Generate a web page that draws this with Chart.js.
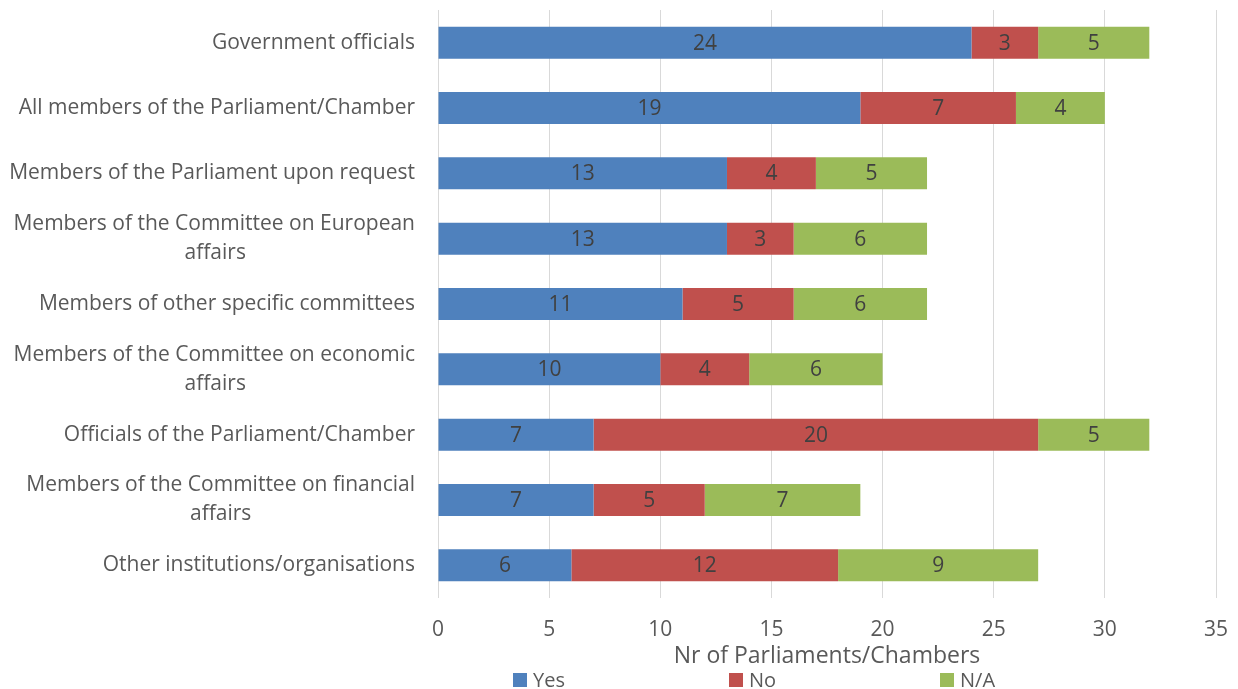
<!DOCTYPE html>
<html>
<head>
<meta charset="utf-8">
<script src="https://cdn.jsdelivr.net/npm/chart.js@4"></script>
<style>
  body { margin: 0; background: #fff; }
  #wrap { position: relative; width: 1238px; height: 689px; }
  #legend {
    position: absolute; left: 513px; top: 666px;
    display: flex; gap: 164px;
    font: 20px "Open Sans", sans-serif; color: #595959; line-height: 27px;
  }
  #legend span.item { display: flex; align-items: center; }
  #legend span.box { width: 14px; height: 14px; margin-right: 6px; display: inline-block; }
</style>
</head>
<body>
<div id="wrap">
  <canvas id="chart" width="1238" height="689"></canvas>
  <div id="legend"></div>
</div>
<script>
// categories (top to bottom)
const categories = [
    'Government officials',
    'All members of the Parliament/Chamber',
    'Members of the Parliament upon request',
    ['Members of the Committee on European', 'affairs'],
    'Members of other specific committees',
    ['Members of the Committee on economic', 'affairs'],
    'Officials of the Parliament/Chamber',
    ['Members of the Committee on financial', 'affairs'],
    'Other institutions/organisations'
];
const yesValues = [24, 19, 13, 13, 11, 10, 7, 7, 6];
const noValues  = [3, 7, 4, 3, 5, 4, 20, 5, 12];
const naValues  = [5, 4, 5, 6, 6, 6, 5, 7, 9];
const xTicks = [0, 5, 10, 15, 20, 25, 30, 35];

const seriesNames = ['Yes', 'No', 'N/A'];
const seriesColors = ['#4F81BD', '#C0504D', '#9BBB59'];

const FONT = '"Open Sans", sans-serif';

// centre the wrapped second line under the first one (labels are right aligned)
const mctx = document.createElement('canvas').getContext('2d');
mctx.font = '21px ' + FONT;
const wrapLabel = lbl => {
    if (!Array.isArray(lbl)) return lbl;
    const w1 = mctx.measureText(lbl[0]).width;
    let second = lbl[1];
    const target = mctx.measureText(second).width + (w1 - mctx.measureText(second).width) / 2;
    while (mctx.measureText(second + ' ').width <= target) second += ' ';
    return [lbl[0], second];
};

// draws the value in the middle of each bar segment
const barValues = {
    id: 'barValues',
    afterDatasetsDraw(chart) {
        const c = chart.ctx;
        c.save();
        c.font = '21px ' + FONT;
        c.fillStyle = '#404040';
        c.textAlign = 'center';
        c.textBaseline = 'middle';
        chart.data.datasets.forEach((ds, i) => {
            chart.getDatasetMeta(i).data.forEach((bar, j) => {
                const p = bar.getProps(['x', 'y', 'base'], true);
                c.fillText(ds.data[j], (p.x + p.base) / 2, p.y + 1);
            });
        });
        c.restore();
    }
};

const ctx = document.getElementById('chart');
const chart = new Chart(ctx, {
    type: 'bar',
    data: {
        labels: categories.map(wrapLabel),
        datasets: [yesValues, noValues, naValues].map((d, i) => ({
            label: seriesNames[i],
            data: d,
            backgroundColor: seriesColors[i],
            categoryPercentage: 1,
            barPercentage: 0.49
        }))
    },
    options: {
        indexAxis: 'y',
        responsive: false,
        animation: false,
        layout: { padding: { top: 10, right: 22, bottom: 21, left: 0 } },
        scales: {
            x: {
                stacked: true,
                min: 0,
                max: 35,
                afterBuildTicks: scale => { scale.ticks = xTicks.map(v => ({ value: v })); },
                afterFit: scale => {
                    scale.paddingLeft = 0;
                    scale.paddingRight = 0;
                },
                grid: { color: '#D9D9D9', drawTicks: false },
                border: { display: false },
                ticks: { color: '#595959', font: { size: 21, family: FONT, lineHeight: 1 }, padding: 22 },
                title: {
                    display: true,
                    text: 'Nr of Parliaments/Chambers',
                    color: '#595959',
                    font: { size: 23, family: FONT, lineHeight: 1 },
                    padding: { top: -18, bottom: 0 }
                }
            },
            y: {
                stacked: true,
                afterFit: scale => {
                    scale.width = 438;
                    scale.paddingTop = 0;
                    scale.paddingBottom = 0;
                },
                grid: { display: false },
                border: { display: false },
                ticks: { color: '#595959', font: { size: 21, family: FONT, lineHeight: 1.38 }, padding: 15, autoSkip: false }
            }
        },
        plugins: {
            legend: { display: false },
            tooltip: { enabled: false }
        }
    },
    plugins: [barValues]
});

// legend under the axis title
const legend = document.getElementById('legend');
seriesNames.forEach((name, i) => {
    const item = document.createElement('span');
    item.className = 'item';
    item.innerHTML = '<span class="box" style="background:' + seriesColors[i] + '"></span>' + name;
    legend.appendChild(item);
});
</script>
</body>
</html>
